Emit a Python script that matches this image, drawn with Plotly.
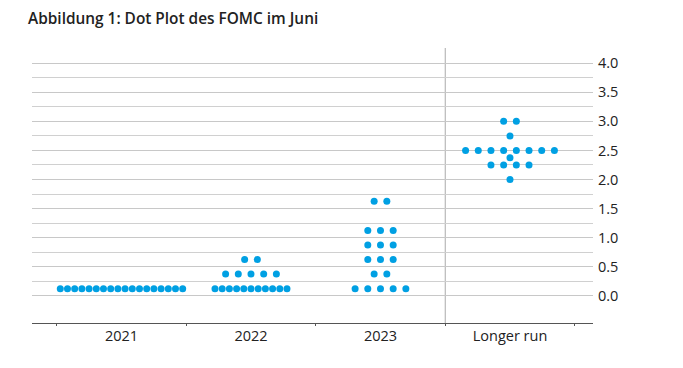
import plotly.graph_objects as go

# Data: FOMC dot plot (June), number of participants per rate level
categories = ["2021", "2022", "2023", "Longer run"]
levels_2021 = [0.125]
counts_2021 = [18]
levels_2022 = [0.125, 0.375, 0.625]
counts_2022 = [11, 5, 2]
levels_2023 = [0.125, 0.375, 0.625, 0.875, 1.125, 1.625]
counts_2023 = [5, 2, 3, 3, 3, 2]
levels_lr = [2.0, 2.25, 2.375, 2.5, 2.75, 3.0]
counts_lr = [1, 4, 1, 8, 1, 2]
y_ticks = [0.0, 0.5, 1.0, 1.5, 2.0, 2.5, 3.0, 3.5, 4.0]
y_tick_text = ["0.0", "0.5", "1.0", "1.5", "2.0", "2.5", "3.0", "3.5", "4.0"]

groups = [(levels_2021, counts_2021), (levels_2022, counts_2022),
          (levels_2023, counts_2023), (levels_lr, counts_lr)]

xs, ys = [], []
for gi, (levels, counts) in enumerate(groups):
    for lv, n in zip(levels, counts):
        step = 0.0556 if n >= 9 else 0.098
        for k in range(n):
            xs.append(gi + (k - (n - 1) / 2) * step)
            ys.append(lv)

BLUE = "#00a0e3"
W, H = 675, 360  # page body has an 8px default margin
fig = go.Figure()
fig.add_trace(go.Scatter(x=xs, y=ys, mode="markers",
                         marker=dict(color=BLUE, size=7, line=dict(width=0)),
                         hoverinfo="skip", showlegend=False))

# divider between projections and longer run
fig.add_shape(type="line", x0=2.5, x1=2.5, xref="x", y0=0, y1=1, yref="paper",
              line=dict(color="#aaaaaa", width=1), layer="below")

fig.update_layout(
    width=W, height=H,
    margin=dict(l=24, r=90, t=40, b=45),
    paper_bgcolor="white", plot_bgcolor="white",
    font=dict(family="Open Sans", size=14.5, color="#222222"),
    title=dict(text="Abbildung 1: Dot Plot des FOMC im Juni",
               x=20 / W, xref="container", xanchor="left",
               y=1 - 11 / H, yref="container", yanchor="middle",
               font=dict(family="Open Sans", size=15.4, color="#222222", weight=600)),
    xaxis=dict(range=[-0.691, 3.641], tickmode="array",
               tickvals=[0, 1, 2, 3], ticktext=categories, ticks="",
               showgrid=False, zeroline=False,
               showline=True, linecolor="#555555", linewidth=1,
               minor=dict(tickmode="array", tickvals=[-0.5, 0.5, 1.5, 2.5, 3.5],
                          ticks="outside", ticklen=2, tickcolor="#555555", showgrid=False),
               tickfont=dict(size=14.5, color="#222222")),
    yaxis=dict(range=[-0.465, 4.26], side="right", tickmode="array",
               tickvals=y_ticks, ticktext=y_tick_text, ticks="",
               ticklabelstandoff=4,
               showgrid=True, gridcolor="#c8c8c8", gridwidth=1,
               zeroline=False, showline=False,
               minor=dict(tickmode="array",
                          tickvals=[v + 0.25 for v in y_ticks[:-1]],
                          showgrid=True, gridcolor="#d0d0d0", gridwidth=1),
               tickfont=dict(size=14.5, color="#222222")),
)

fig.write_html("out.html")
